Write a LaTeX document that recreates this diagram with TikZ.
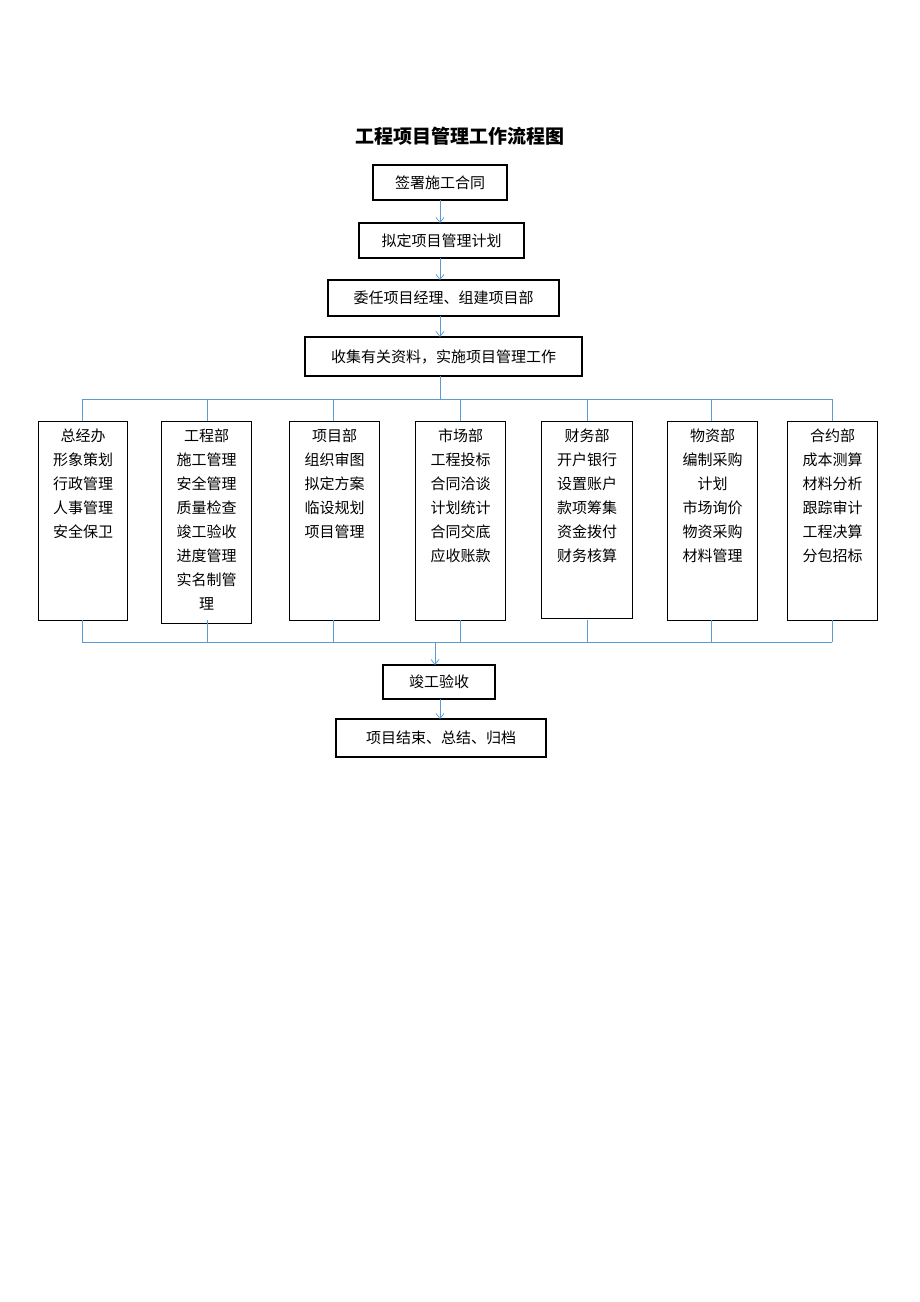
\documentclass[tikz,border=0pt]{standalone}
\usepackage{fontspec}
\newfontfamily\cjk{Noto Sans CJK SC}
\usetikzlibrary{arrows.meta}
\definecolor{ln}{RGB}{91,155,213}
\begin{document}
\begin{tikzpicture}[x=1pt,y=-1pt,
 bx/.style={draw,line width=1.2pt,inner sep=0pt,font=\cjk\fontsize{15}{15}\selectfont},
 col/.style={draw,line width=1.2pt,inner sep=0pt,anchor=north west,align=center,font=\cjk\fontsize{15}{24}\selectfont},
 cn/.style={draw=ln,line width=0.7pt},
 ar/.style={cn,-{Straight Barb[length=5pt,width=8pt]}}]
\useasboundingbox (0,0) rectangle (920,1302);
\node[font=\cjk\bfseries\fontsize{19}{19}\selectfont] (title) at (460,136) {工程项目管理工作流程图};
\node[bx,minimum width=134,minimum height=35] (a) at (440,182.5) {签署施工合同};
\node[bx,minimum width=165,minimum height=35] (b) at (441.5,240.5) {拟定项目管理计划};
\node[bx,minimum width=231,minimum height=36] (c) at (443.5,298) {委任项目经理、组建项目部};
\node[bx,minimum width=277,minimum height=39] (d) at (443.5,356.5) {收集有关资料，实施项目管理工作};
\draw[ar] (440,200) -- (440,223);
\draw[ar] (440,258) -- (440,280);
\draw[ar] (440,316) -- (440,337);
\draw[cn] (440,376) -- (440,399);
\draw[cn] (82,399) -- (832,399);
\def\colbox#1#2#3#4{\node[col,minimum width=#3,minimum height=#4] (#1) at (#2,421) {};}
\colbox{k1}{38}{89}{199}
\colbox{k2}{161}{90}{202}
\colbox{k3}{289}{90}{199}
\colbox{k4}{415}{90}{199}
\colbox{k5}{541}{91}{197}
\colbox{k6}{667}{90}{199}
\colbox{k7}{787}{90}{199}
\def\coltext#1#2{\node[anchor=north,align=center,font=\cjk\fontsize{15}{24}\selectfont,inner sep=0pt] at ([yshift=-8]#1.north) {#2};}
\coltext{k1}{总经办\\形象策划\\行政管理\\人事管理\\安全保卫}
\coltext{k2}{工程部\\施工管理\\安全管理\\质量检查\\竣工验收\\进度管理\\实名制管\\理}
\coltext{k3}{项目部\\组织审图\\拟定方案\\临设规划\\项目管理}
\coltext{k4}{市场部\\工程投标\\合同洽谈\\计划统计\\合同交底\\应收账款}
\coltext{k5}{财务部\\开户银行\\设置账户\\款项筹集\\资金拨付\\财务核算}
\coltext{k6}{物资部\\编制采购\\计划\\市场询价\\物资采购\\材料管理}
\coltext{k7}{合约部\\成本测算\\材料分析\\跟踪审计\\工程决算\\分包招标}
\foreach \k/\x in {k1/82,k2/207,k3/333,k4/460,k5/587,k6/711,k7/832}{
  \draw[cn] (\x,399) -- (\x,421);
  \draw[cn] (\x,642) -- (\x,620);
}
\draw[cn] (82,642) -- (832,642);
\node[bx,minimum width=112,minimum height=34] (e) at (439,682) {竣工验收};
\node[bx,minimum width=210,minimum height=38] (f) at (441,738) {项目结束、总结、归档};
\draw[ar] (435,642) -- (435,665);
\draw[ar] (440,699) -- (440,719);
\end{tikzpicture}
\end{document}
